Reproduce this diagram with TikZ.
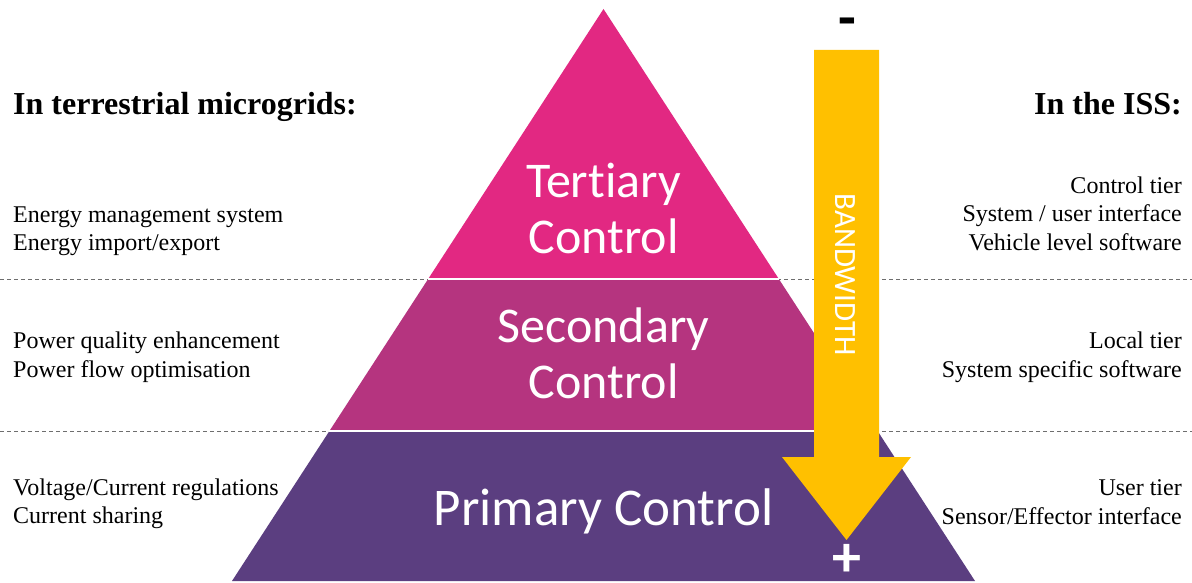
\documentclass[tikz,border=0pt]{standalone}
\usepackage{fontspec}
\setmainfont{Liberation Serif}
\newfontfamily\calfont[Ligatures=NoCommon]{Carlito}
\usetikzlibrary{calc}
\definecolor{tertc}{RGB}{226,40,130}
\definecolor{secc}{RGB}{181,52,127}
\definecolor{primc}{RGB}{91,62,128}
\definecolor{bwyellow}{RGB}{255,192,0}
\definecolor{dashgrey}{RGB}{110,110,110}
\begin{document}
\begin{tikzpicture}[x=1pt,y=-1pt,
  lbl/.style={inner sep=0pt, font=\fontsize{24}{28}\selectfont},
  head/.style={inner sep=0pt, font=\bfseries\fontsize{32}{36}\selectfont},
  tiertext/.style={inner sep=0pt, text=white, anchor=base, font=\calfont\fontsize{50}{56}\selectfont},
  dashline/.style={dashgrey, line width=0.9pt, dash pattern=on 4pt off 3pt},
  sepline/.style={white, line width=1.2pt}]
\useasboundingbox (0,0) rectangle (1192,583);
\fill[white] (0,0) rectangle (1192,583);
% dashed separators
\coordinate (d1w) at (0,279);
\coordinate (d1e) at (1192,279);
\coordinate (d2w) at (0,431);
\coordinate (d2e) at (1192,431);
\draw[dashline] (d1w) -- (d1e);
\draw[dashline] (d2w) -- (d2e);
% pyramid
\coordinate (apex) at (603.5,9);
\coordinate (bl) at (232,581);
\coordinate (br) at (975,581);
\coordinate (l1) at ($(apex)!0.472!(bl)$);
\coordinate (r1) at ($(apex)!0.472!(br)$);
\coordinate (l2) at ($(apex)!0.7378!(bl)$);
\coordinate (r2) at ($(apex)!0.7378!(br)$);
\fill[tertc] (apex) -- (r1) -- (l1) -- cycle;
\fill[secc] (l1) -- (r1) -- (r2) -- (l2) -- cycle;
\fill[primc] (l2) -- (r2) -- (br) -- (bl) -- cycle;
\draw[sepline] (l1) -- (r1);
\draw[sepline] (l2) -- (r2);
% tier labels
\node[tiertext] (t1) at (603.5,197) {Tertiary};
\node[tiertext] (t2) at (603.5,253) {Control};
\node[tiertext] (s1) at (603.5,342) {Secondary};
\node[tiertext] (s2) at (603.5,398) {Control};
\node[tiertext, font=\calfont\fontsize{53}{58}\selectfont] (p1) at (603.5,525) {Primary Control};
% bandwidth arrow
\fill[bwyellow] (814,50) -- (879,50) -- (879,457) -- (911,457) -- (846.5,540) -- (782,457) -- (814,457) -- cycle;
\node[inner sep=0pt, text=white, rotate=-90, font=\calfont\fontsize{31}{36}\selectfont] (bw) at (845,274.5) {BANDWIDTH};
\node[inner sep=0pt, anchor=base, font=\calfont\bfseries\fontsize{58}{58}\selectfont] (minus) at (847,38) {-};
\node[inner sep=0pt, anchor=base, text=white, font=\calfont\bfseries\fontsize{58}{58}\selectfont] (plus) at (847,576) {+};
% left texts
\node[head, anchor=base west] (lh) at (13,115) {In terrestrial microgrids:};
\node[lbl, anchor=base west] (la1) at (13,222.5) {Energy management system};
\node[lbl, anchor=base west] (la2) at (13,250.5) {Energy import/export};
\node[lbl, anchor=base west] (lb1) at (13,348) {Power quality enhancement};
\node[lbl, anchor=base west] (lb2) at (13,377) {Power flow optimisation};
\node[lbl, anchor=base west] (lc1) at (13,495) {Voltage/Current regulations};
\node[lbl, anchor=base west] (lc2) at (13,523.5) {Current sharing};
% right texts
\node[head, anchor=base east] (rh) at (1182,115) {In the ISS:};
\node[lbl, anchor=base east] (ra1) at (1182,193.5) {Control tier};
\node[lbl, anchor=base east] (ra2) at (1182,222) {System / user interface};
\node[lbl, anchor=base east] (ra3) at (1182,250.5) {Vehicle level software};
\node[lbl, anchor=base east] (rb1) at (1182,348) {Local tier};
\node[lbl, anchor=base east] (rb2) at (1182,377) {System specific software};
\node[lbl, anchor=base east] (rc1) at (1182,495) {User tier};
\node[lbl, anchor=base east] (rc2) at (1182,524) {Sensor/Effector interface};
\end{tikzpicture}
\end{document}
